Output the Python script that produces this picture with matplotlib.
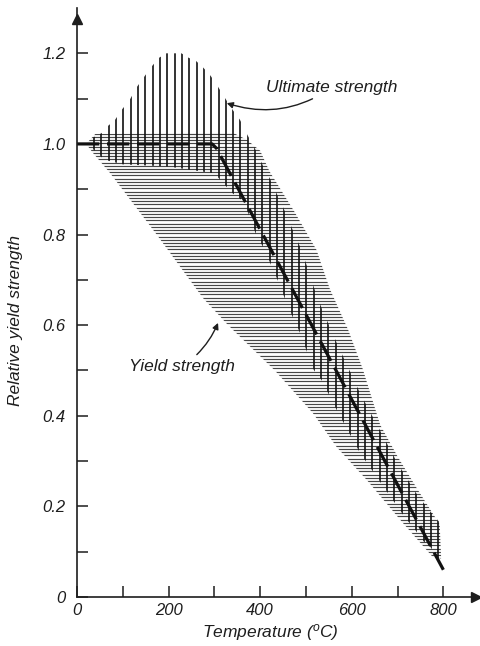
import matplotlib
matplotlib.use("Agg")
import matplotlib.pyplot as plt
import numpy as np

plt.rcParams["font.family"] = ["Liberation Sans", "DejaVu Sans"]
plt.rcParams["font.style"] = "italic"
plt.rcParams["mathtext.fontset"] = "custom"
plt.rcParams["mathtext.rm"] = "Liberation Sans:italic"
plt.rcParams["mathtext.it"] = "Liberation Sans:italic"

INK = "#1e1e1e"

# design curve (dashed): relative strength vs temperature
design_t = [0, 295, 305, 318, 800]
design_s = [1.0, 1.0, 0.99, 0.965, 0.06]

# ultimate strength band (vertical hatch): upper and lower envelopes
ult_top_t = [30, 37, 54, 68, 83, 99, 115, 131, 148, 164, 179, 195, 211, 228, 244,
             260, 276, 292, 308, 324, 340, 356, 372, 390, 406, 422, 438, 455, 471,
             487, 503, 517, 534, 567, 618, 700, 740, 770, 796]
ult_top_s = [1.01, 1.015, 1.024, 1.04, 1.053, 1.077, 1.097, 1.126, 1.15, 1.172, 1.19,
             1.2, 1.2, 1.2, 1.19, 1.183, 1.168, 1.15, 1.126, 1.10, 1.075, 1.053, 1.02,
             0.987, 0.952, 0.922, 0.886, 0.849, 0.81, 0.773, 0.728, 0.684, 0.638,
             0.561, 0.45, 0.295, 0.23, 0.19, 0.16]
ult_low_t = [30, 37, 60, 100, 200, 300, 327, 341, 360, 374, 390, 406, 422, 438, 455,
             471, 487, 503, 517, 534, 567, 618, 720, 734, 753, 772, 786, 796]
ult_low_s = [0.99, 0.987, 0.965, 0.955, 0.95, 0.935, 0.905, 0.89, 0.876, 0.847, 0.803,
             0.773, 0.737, 0.70, 0.656, 0.618, 0.583, 0.539, 0.501, 0.479, 0.413, 0.318,
             0.17, 0.155, 0.126, 0.11, 0.088, 0.08]

# yield strength band (horizontal hatch)
yld_top_t = [20, 40, 340, 371, 400, 420, 475, 523, 552, 592, 624, 662, 700, 742, 792, 795]
yld_top_s = [1.0, 1.022, 1.025, 1.009, 0.985, 0.94, 0.85, 0.766, 0.68, 0.59, 0.503,
             0.38, 0.31, 0.24, 0.16, 0.09]
yld_low_t = [20, 35, 72, 174, 275, 330, 432, 515, 567, 633, 712, 777, 795]
yld_low_s = [1.0, 0.98, 0.936, 0.80, 0.66, 0.60, 0.50, 0.406, 0.331, 0.258, 0.163,
             0.088, 0.085]

x_ticks = [0, 200, 400, 600, 800]
y_ticks = [0, 0.2, 0.4, 0.6, 0.8, 1.0, 1.2]
y_tick_labels = ["0", "0.2", "0.4", "0.6", "0.8", "1.0", "1.2"]

fig = plt.figure(figsize=(4.8, 6.46), dpi=100)
ax = fig.add_axes([0.1604, 0.0759, 0.8396, 0.9117])
ax.set_xlim(0, 880)
ax.set_ylim(0, 1.3)

# band outlines, used only as clip paths for the hatching
yld_poly = ax.fill(yld_top_t + yld_low_t[::-1], yld_top_s + yld_low_s[::-1],
                   facecolor="none", edgecolor="none")[0]
ult_poly = ax.fill(ult_top_t + ult_low_t[::-1], ult_top_s + ult_low_s[::-1],
                   facecolor="none", edgecolor="none")[0]

h = ax.hlines(np.arange(0.05, 1.05, 0.0071), 0, 810, color="#474747", lw=0.85)
h.set_clip_path(yld_poly)
v = ax.vlines(np.arange(37, 800, 16), 0, 1.25, color="#111111", lw=1.2)
v.set_clip_path(ult_poly)

ax.plot(design_t, design_s, color="#111111", lw=2.3, dashes=(7, 2.4),
        solid_capstyle="butt")

# axes drawn as arrows
for side in ("top", "right"):
    ax.spines[side].set_visible(False)
for side in ("left", "bottom"):
    ax.spines[side].set_linewidth(1.2)
    ax.spines[side].set_color(INK)
ax.plot(0, 1.275, marker="^", ms=7, color=INK, clip_on=False)
ax.plot(872, 0, marker=">", ms=7, color=INK, clip_on=False)

ax.set_xticks(x_ticks)
ax.set_xticks(range(100, 900, 200), minor=True)
ax.set_yticks(y_ticks)
ax.set_yticklabels(y_tick_labels)
ax.set_yticks(np.arange(0.1, 1.2, 0.2), minor=True)
ax.tick_params(which="both", direction="in", length=8, width=1.1, color=INK,
               labelsize=12, labelcolor=INK)
ax.tick_params(axis="y", pad=8)
ax.tick_params(axis="x", pad=4)

ax.set_ylabel("Relative yield strength", fontsize=12.5, color=INK)
ax.yaxis.set_label_coords(-0.135, 0.47)
ax.set_xlabel(r"Temperature ($^{\rm o}$C)", fontsize=12.5, color=INK)
ax.xaxis.set_label_coords(0.479, -0.043)

ax.annotate("Ultimate strength", xy=(327, 1.09), xytext=(557, 1.125),
            ha="center", va="center", fontsize=12.5, color=INK,
            arrowprops=dict(arrowstyle="-|>", color=INK, lw=1.0,
                            connectionstyle="arc3,rad=-0.25", shrinkA=2, shrinkB=0,
                            mutation_scale=9))
ax.annotate("Yield strength", xy=(308, 0.605), xytext=(229, 0.508),
            ha="center", va="center", fontsize=12.5, color=INK,
            arrowprops=dict(arrowstyle="-|>", color=INK, lw=1.0,
                            connectionstyle="arc3,rad=0.15", shrinkA=2, shrinkB=0,
                            mutation_scale=9))

fig.savefig("out.png", dpi=100)
